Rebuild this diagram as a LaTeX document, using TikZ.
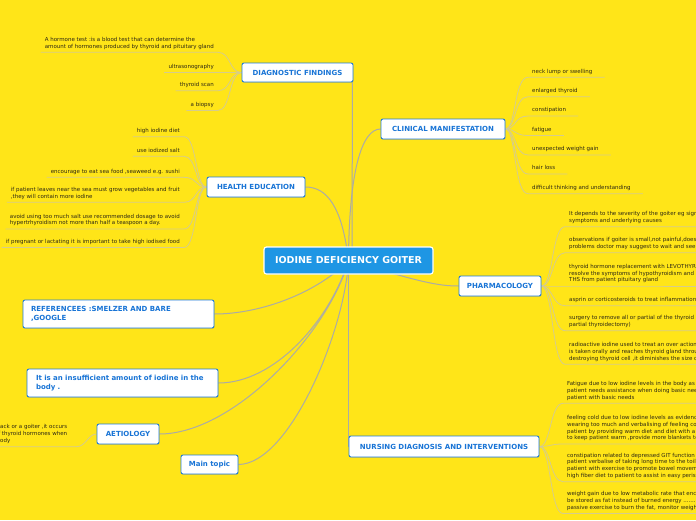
\documentclass[tikz,border=0pt]{standalone}
\usepackage{fontspec}
\setmainfont{DejaVu Sans}
\usetikzlibrary{shadows}
\pgfdeclarelayer{bglayer}
\pgfsetlayers{bglayer,main}
\definecolor{bgyellow}{RGB}{255,229,24}
\definecolor{mainblue}{RGB}{30,150,228}
\definecolor{boxblue}{RGB}{32,124,214}
\definecolor{txtblue}{RGB}{24,116,214}
\definecolor{connc}{RGB}{172,172,165}
\definecolor{leafc}{RGB}{214,204,140}
\definecolor{leaftxt}{RGB}{45,40,20}
\tikzset{
  centralbox/.style={fill=mainblue, draw=white, line width=1.2pt, rounded corners=2.5pt, text=white,
    font=\fontsize{9.5}{11}\selectfont\bfseries, minimum width=169pt, minimum height=27pt, inner sep=0pt},
  branch/.style={fill=white, draw=boxblue, line width=0.9pt, rounded corners=2pt, text=txtblue,
    font=\fontsize{7}{8.5}\selectfont\bfseries, inner sep=0pt,
    drop shadow={opacity=0.25, shadow xshift=0.6pt, shadow yshift=-0.9pt}},
  leaf/.style={font=\fontsize{5.5}{6.8}\selectfont, text=leaftxt, align=left, inner xsep=4pt,
    inner ysep=2.7pt, text depth=1.3pt},
  conn/.style={draw=connc, line width=1pt},
  leafline/.style={draw=leafc, line width=0.8pt},
}
\begin{document}
\begin{tikzpicture}[x=1pt,y=-1pt]
\useasboundingbox (0,0) rectangle (696,520);
\begin{pgfonlayer}{bglayer}
\fill[bgyellow] (0,0) rectangle (696,520);
\end{pgfonlayer}
\begin{scope}
\clip (0,0) rectangle (696,520);
% central and branch nodes
\node[centralbox] (cen) at (348.5,260.5) {IODINE DEFICIENCY GOITER};
\node[branch, minimum width=111pt, minimum height=19pt] (diag) at (297.5,72.5) {DIAGNOSTIC FINDINGS};
\node[branch, minimum width=124pt, minimum height=20pt] (clin) at (443,129) {CLINICAL MANIFESTATION};
\node[branch, minimum width=98pt, minimum height=20pt] (health) at (256,187) {HEALTH EDUCATION};
\node[branch, minimum width=82pt, minimum height=20pt] (pharm) at (500,286) {PHARMACOLOGY};
\node[branch, minimum width=190pt, minimum height=21pt] (nurs) at (444,446.5) {NURSING DIAGNOSIS AND INTERVENTIONS};
\node[branch, text width=175pt, align=left, inner xsep=8pt, minimum height=28pt] (refs) at (118.5,314) {REFERENCEES :SMELZER AND BARE\\,GOOGLE};
\node[branch, text width=173pt, align=left, inner xsep=9pt, minimum height=28pt] (insuf) at (122.5,383) {It is an insufficient amount of iodine in the\\body .};
\node[branch, minimum width=62pt, minimum height=20pt] (aet) at (128,434) {AETIOLOGY};
\node[branch, minimum width=57pt, minimum height=19pt] (mtopic) at (209.5,464.5) {Main topic};

% main connectors
\begin{pgfonlayer}{bglayer}
\draw[conn] ([xshift=3.5pt]cen.center) -- ([xshift=-1pt]diag.south east);
\draw[conn] (cen.center) .. controls (349,170) and (362,129) .. (clin.west);
\draw[conn] (cen.center) .. controls (342,205) and (326,187) .. (health.east);
\draw[conn] (cen.center) .. controls (420,282) and (438,286) .. (pharm.west);
\draw[conn] ([xshift=-0.5pt]cen.center) -- ([xshift=-0.5pt]cen.center |- nurs.west) -- (nurs.west);
\draw[conn] (cen.center) .. controls (318,292) and (262,314) .. (refs.east);
\draw[conn] (cen.center) .. controls (330,320) and (275,383) .. (insuf.east);
\draw[conn] (cen.center) .. controls (330,330) and (235,434) .. (aet.east);
\draw[conn] (cen.center) .. controls (345,330) and (290,464) .. (mtopic.east);
\end{pgfonlayer}

% diagnostic findings leaves
\foreach \n/\yy/\t in {d1/52.3/{A hormone test :is a blood test that can determine the\\amount of hormones produced by thyroid and pituitary gland},
  d2/72.5/{ultrasonography}, d3/90.7/{thyroid scan}, d4/110.5/{a biopsy}}{
  \node[leaf, anchor=south east] (\n) at (218,\yy) {\t};
  \begin{pgfonlayer}{bglayer}
  \draw[leafline] (\n.south west) -- (\n.south east) .. controls (231,\yy) and (229,72.5) .. (diag.west);
  \end{pgfonlayer}
}

% clinical manifestation leaves
\foreach \n/\yy/\t in {c1/77.3/{neck lump or swelling}, c2/96.7/{enlarged thyroid}, c3/116/{constipation},
  c4/135.5/{fatigue}, c5/155/{unexpected weight gain}, c6/174/{hair loss},
  c7/193.7/{difficult thinking and understanding}}{
  \node[leaf, anchor=south west] (\n) at (528,\yy) {\t};
  \begin{pgfonlayer}{bglayer}
  \draw[leafline] (clin.east) .. controls (516,129) and (514,\yy) .. (\n.south west) -- ([xshift=8pt]\n.south east);
  \end{pgfonlayer}
}

% health education leaves
\foreach \n/\yy/\t in {h1/136.7/{high iodine diet}, h2/156.3/{use iodized salt},
  h3/177.3/{encourage to eat sea food ,seaweed e.g. sushi},
  h4/202.3/{if patient leaves near the sea must grow vegetables and fruit\\,they will contain more iodine},
  h5/229/{avoid using too much salt use recommended dosage to avoid\\hypertrhyroidism not more than half a teaspoon a day.},
  h6/247.5/{if pregnant or lactating it is important to take high iodised food}}{
  \node[leaf, anchor=south east] (\n) at (184,\yy) {\t};
  \begin{pgfonlayer}{bglayer}
  \draw[leafline] (\n.south west) -- (\n.south east) .. controls (197,\yy) and (195,187) .. (health.west);
  \end{pgfonlayer}
}

% pharmacology leaves
\foreach \n/\yy/\t in {p1/226.7/{It depends to the severity of the goiter  eg signs and\\symptoms and underlying causes},
  p2/252.7/{observations if goiter is small,not painful,does not cause\\problems doctor may suggest to wait and see},
  p3/286/{thyroid hormone replacement with LEVOTHYROXINE will\\resolve the symptoms of hypothyroidism and slow\\THS from patient pituitary gland},
  p4/305.7/{asprin or corticosteroids to treat inflammation},
  p5/330.7/{surgery to remove all or partial of the thyroid gland (total or\\partial thyroidectomy)},
  p6/364.3/{radioactive iodine used to treat an over action thyroid\\is taken orally and reaches thyroid gland through\\destroying thyroid cell ,it diminishes the size of goiter}}{
  \node[leaf, anchor=south west] (\n) at (565,\yy) {\t};
  \begin{pgfonlayer}{bglayer}
  \draw[leafline] (pharm.east) .. controls (553,286) and (552,\yy) .. (\n.south west) -- ++(200,0);
  \end{pgfonlayer}
}

% nursing leaves
\foreach \n/\yy/\t in {n1/403.3/{Fatigue due to low iodine levels in the body as evidenced\\patient needs assistance when doing basic needs\\patient with basic needs},
  n2/444/{feeling cold due to low iodine levels as evidenced\\wearing too much and verbalising of feeling cold\\patient by providing warm diet  and diet with a\\to keep patient warm ,provide more blankets to},
  n3/481.7/{constipation  related to depressed GIT function\\patient verbalise of taking long time to the toilet\\patient with exercise to promote bowel movement\\high fiber diet to patient to assist in easy peristalsis},
  n4/513.5/{weight gain due to low metabolic rate that encourages\\be stored as fat instead of burned energy ........\\passive exercise to burn the fat, monitor weight}}{
  \node[leaf, anchor=south west] (\n) at (563,\yy) {\t};
  \begin{pgfonlayer}{bglayer}
  \draw[leafline] (nurs.east) .. controls (551,446.5) and (550,\yy) .. (\n.south west) -- ++(200,0);
  \end{pgfonlayer}
}

% aetiology leaf
\node[leaf, anchor=south west] (a1) at (-4,446.7) {\llap{b}ack or a goiter ,it occurs\\\llap{of} thyroid hormones when\\\llap{b}ody};
\begin{pgfonlayer}{bglayer}
\draw[leafline] (a1.south west) -- ([xshift=5pt]a1.south east) .. controls (86,446.7) and (88,434) .. (aet.west);
\end{pgfonlayer}
\end{scope}
\end{tikzpicture}
\end{document}
